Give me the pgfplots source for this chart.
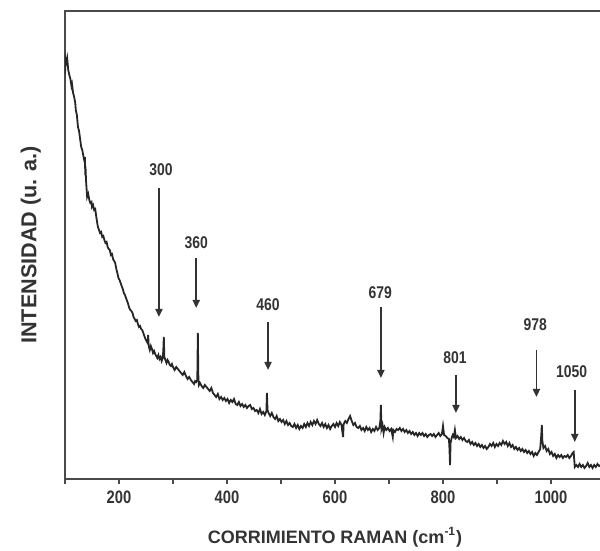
\documentclass[border=0pt]{standalone}
\usepackage{fontspec}
\setmainfont{Liberation Sans}
\newfontfamily\narrow[FakeStretch=0.82]{Liberation Sans}
\usepackage{pgfplots}
\pgfplotsset{compat=1.18}
\usetikzlibrary{arrows.meta}

\definecolor{txt}{HTML}{333333}
\definecolor{frame}{HTML}{4A4A4A}

\pgfplotstableread{
x y
100 405
101 419
102 416
104 421
106 409
108 404
110 400
112 393
113 395
115 386
117 382
119 376
120 369
122 364
124 352
126 348
128 340
130 332
132 329
134 323
136 318
137 322
137.5 304
138 312
139 298
141 282
143 285
145 279
147 276
149 277
150 272
152 274
154 269
156 270
158 262
160 255
161 252
163 249
165 246
167 247
169 242
171 243
173 239
175 236
177 237
179 232
181 230
183 229
185 224
187 225
189 220
191 218
193 216
195 210
197 206
199 201
201 199
203 196
205 193
207 190
209 186
211 184
213 181
215 178
217 175
219 171
221 169
223 168
225 166
227 162
229 160
231 158
233 159
235 155
237 152
239 153
241 150
243 149
245 146
247 143
249 140
251 138
253 136
254 144
255 133
257 129
259 133
261 130
263 126
265 128
267 125
269 123
271 121
273 124
275 120
277 122
279 118
281 121
282 128
283 142
284 122
286 119
288 116
290 119
292 117
294 114
296 113
298 115
300 112
303 109
306 112
309 110
312 108
315 106
318 104
321 107
324 103
327 100
330 102
333 99
336 97
339 95
341 98
343 97
345 99
346 146
347 101
348 94
350 96
353 93
356 91
359 94
362 92
365 90
368 88
371 91
374 86
377 84
380 82
383 85
386 80
389 82
392 79
395 81
398 78
401 80
404 76
407 79
410 77
413 80
416 75
419 74
422 77
425 73
428 75
431 72
434 74
437 71
440 73
443 74
446 70
449 71
452 68
455 69
458 66
461 70
464 65
467 67
470 64
473 68
474 86
475 69
477 66
480 63
483 66
486 62
489 60
492 63
495 58
498 60
501 57
504 59
507 55
510 58
513 54
516 56
519 53
522 52
525 55
528 51
531 54
534 50
537 53
540 51
543 55
546 52
549 56
552 53
555 57
558 54
561 58
564 55
567 59
570 55
573 53
576 56
579 52
582 55
585 51
588 54
591 50
594 53
597 55
600 52
603 56
606 53
609 57
612 54
615 42
616 55
619 58
622 56
625 60
628 63
631 58
634 54
637 56
640 52
643 51
646 53
649 49
652 51
655 48
658 52
661 49
664 51
667 47
670 50
673 48
676 52
679 49
682 51
684 58
685 74
686 50
688 54
690 46
692 52
695 49
698 51
701 48
704 50
707 42
708 49
711 47
714 50
717 49
720 51
723 48
726 50
729 47
732 49
735 46
738 48
741 45
744 47
747 44
750 46
753 43
756 46
759 44
762 46
765 43
768 45
771 42
774 44
777 45
780 43
783 45
786 42
789 44
792 46
795 43
798 45
800 53
802 44
805 43
808 41
811 40
812 30
813 14
814 36
816 41
818 44
820 42
822 49
824 41
827 43
830 40
833 42
836 39
839 41
842 38
845 37
848 39
851 35
854 37
857 34
860 36
863 33
866 35
869 32
872 34
875 31
878 33
881 30
884 32
887 35
890 33
893 36
896 32
899 35
902 33
905 36
908 34
911 38
914 35
917 37
920 33
923 36
926 32
929 34
932 30
935 32
938 29
941 31
944 28
947 30
950 27
953 29
956 26
959 28
962 25
965 27
968 23
971 26
974 24
977 27
980 30
982 44
983 54
984 38
986 31
989 33
992 28
995 30
998 25
1001 27
1004 23
1007 25
1010 21
1013 24
1016 22
1019 24
1022 21
1025 23
1028 22
1031 24
1034 21
1037 23
1040 26
1042 27
1044 12
1047 14
1050 12
1053 15
1056 12
1059 14
1062 11
1065 13
1068 16
1071 12
1074 14
1077 11
1080 14
1083 12
1086 15
1089 13
1092 14
1095 12
}\spectrum

\begin{document}
\begin{tikzpicture}
\path[use as bounding box] (-32.5pt,-36pt) rectangle (267.5pt,239.5pt);
\begin{axis}[
  at={(0,0)}, anchor=south west,
  scale only axis, width=270pt, height=234pt,
  xmin=100, xmax=1100, ymin=0, ymax=468,
  xtick={200,400,...,1000}, minor xtick={100,300,...,1100},
  ytick=\empty,
  tick pos=left, tick align=outside,
  major tick length=2.5pt, minor tick length=2.5pt,
  every tick/.style={frame, line width=0.8pt},
  axis line style={frame, line width=1pt},
  /pgf/number format/assume math mode=true,
  /pgf/number format/1000 sep={},
  ticklabel style={font=\narrow\bfseries\fontsize{9}{10}\selectfont, text=txt},
  xlabel={CORRIMIENTO RAMAN (cm\textsuperscript{-1})},
  xlabel style={font=\bfseries\fontsize{9}{10}\selectfont, text=txt, yshift=-5pt},
  ylabel={INTENSIDAD (u. a.)},
  ylabel style={font=\bfseries\fontsize{10.8}{12}\selectfont, text=txt, yshift=6pt},
]
\addplot[black!85, line width=0.9pt] table[x=x,y=y] {\spectrum};
\tikzset{pk/.style={draw=txt, line width=0.9pt, -{Triangle[length=4pt,width=3.5pt]}},
         lb/.style={font=\narrow\bfseries\fontsize{8.5}{10}\selectfont, text=txt}}
\draw[pk] (axis cs:274,291) -- (axis cs:274,162);
\node[lb] at (axis cs:278,309) {300};
\draw[pk] (axis cs:343,221) -- (axis cs:343,171);
\node[lb] at (axis cs:343,236) {360};
\draw[pk] (axis cs:476,157) -- (axis cs:476,109);
\node[lb] at (axis cs:476,174) {460};
\draw[pk] (axis cs:685,172) -- (axis cs:685,101);
\node[lb] at (axis cs:684,186) {679};
\draw[pk] (axis cs:824,104) -- (axis cs:824,66);
\node[lb] at (axis cs:822,121) {801};
\draw[pk] (axis cs:973,129) -- (axis cs:973,82);
\node[lb] at (axis cs:971,154) {978};
\draw[pk] (axis cs:1044,89) -- (axis cs:1044,37);
\node[lb] at (axis cs:1038,107) {1050};
\end{axis}
\end{tikzpicture}
\end{document}
